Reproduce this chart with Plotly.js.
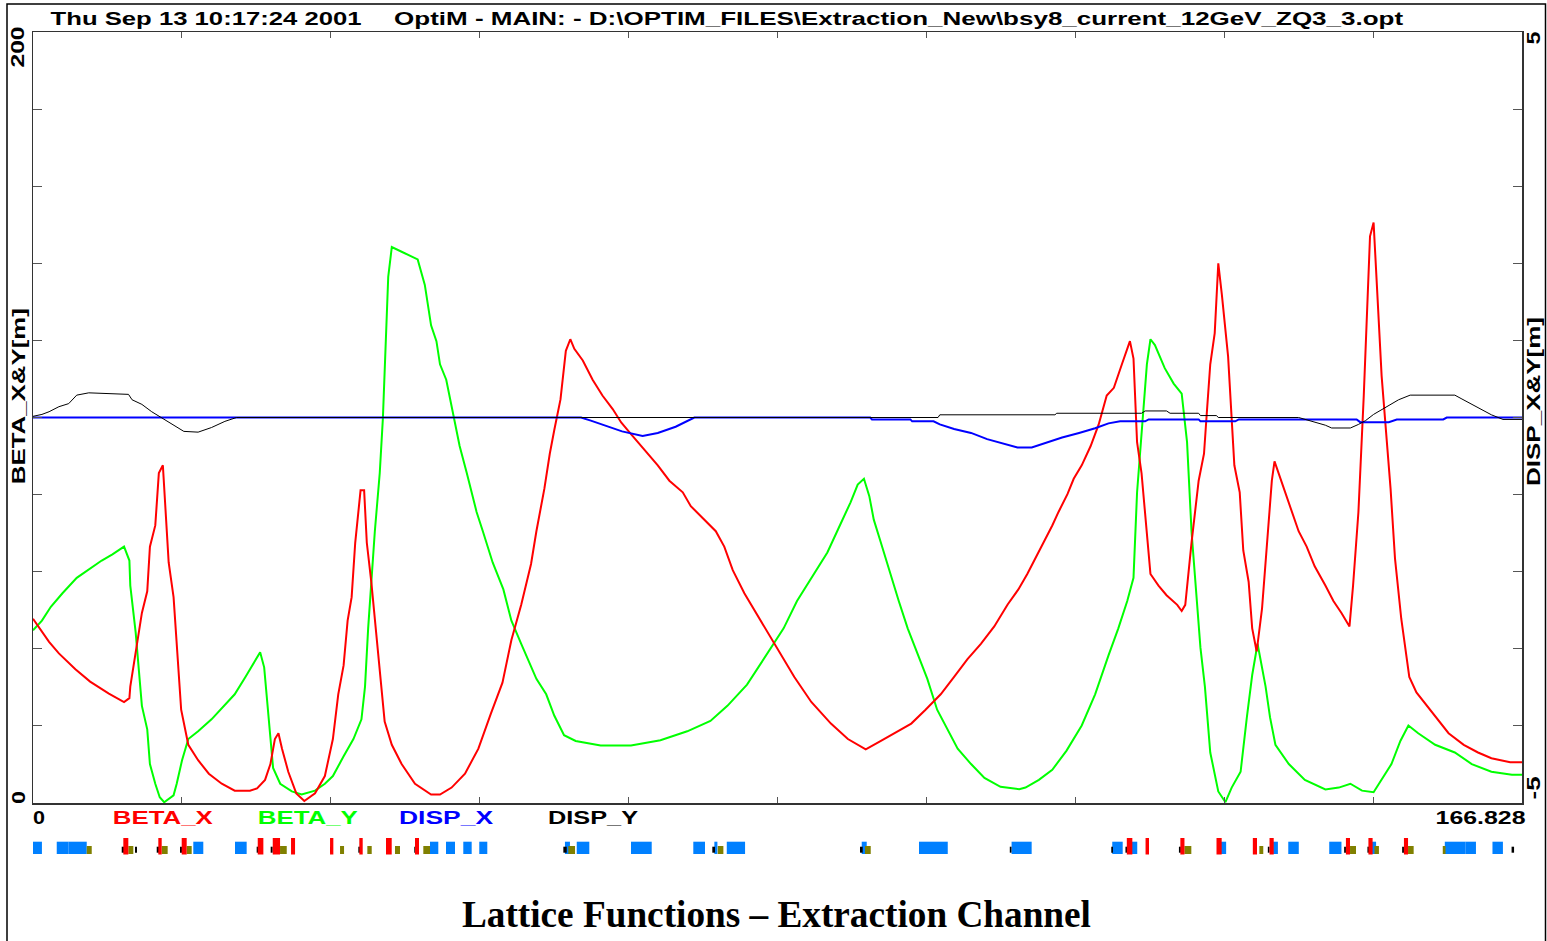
<!DOCTYPE html>
<html>
<head>
<meta charset="utf-8">
<script src="https://cdn.plot.ly/plotly-3.0.1.min.js"></script>
<style>html,body{margin:0;padding:0;background:#fff;}#chart{width:1547px;height:941px;}</style>
</head>
<body>
<div id="chart"></div>
<script>
// ---------------- DATA ----------------
const S_MAX = 166.828;

// BETA_X (red) [m]
const sBetaX = [0,1.8,2.9,4.75,6.4,8.5,10.2,10.8,10.9,12.2,12.8,13.1,13.7,14.1,14.55,15.2,15.75,16.6,17.4,18.5,19.7,21.15,22.6,24.3,25.1,26.0,26.6,27.1,27.5,27.9,28.6,29.5,30.4,31.6,32.7,33.6,34.2,34.8,35.25,35.7,36.1,36.7,37.1,37.4,37.9,38.7,39.4,40.2,41.3,42.8,44.6,45.6,46.9,48.4,49.9,51.3,52.6,53.6,54.7,55.8,56.4,57.3,57.9,58.4,59.1,59.7,60.2,60.65,61.6,62.7,63.8,64.95,65.9,67.0,68.5,70.0,71.3,72.8,73.7,75.0,76.5,77.45,78.4,79.7,81.0,82.3,83.8,85.3,87.2,89.4,91.3,93.3,95.0,96.9,98.4,100.0,101.7,103.2,104.7,106.2,107.7,109.2,110.4,111.4,112.3,113.2,114.2,114.9,115.9,116.6,117.5,118.5,119.4,120.3,121.1,122.0,122.9,123.3,123.7,124.2,124.6,125.2,126.1,127.0,128.2,128.7,129.1,129.8,130.6,131.2,131.5,131.9,132.4,132.8,133.2,133.9,134.6,135.2,135.6,136.2,136.6,137.1,137.7,138.3,138.8,139.1,139.7,140.3,141.0,141.8,142.7,143.6,144.8,145.7,146.6,147.5,147.9,148.5,149.1,149.4,149.8,150.2,150.55,151.1,152.1,152.6,153.3,154.2,155.0,156.2,157.3,158.6,160.3,161.9,163.4,165.5,166.828];
const betaX = [47.8,41.8,38.8,34.7,31.5,28.4,26.2,27.2,30.2,49.3,54.9,66.5,72,85.6,87.6,62.4,53.4,24.2,15.1,11.1,7.6,5.0,3.2,3.2,3.8,6.0,10.1,16.6,18.1,14.1,8.1,2.5,0.5,2.5,7.0,16.6,28.2,35.7,47.3,53.4,67.5,81.1,81.1,67.5,57.4,38.3,21.1,15.1,10.1,5.0,2.2,2.2,4.0,7.6,14.1,23.2,31.2,42.3,51.4,62.0,70.5,81.6,90.6,96.7,104.7,117.3,120.3,117.8,114.8,109.8,105.7,102.2,98.7,95.7,91.6,87.6,83.6,80.6,77.0,74.0,70.5,66.5,60.4,54.4,49.3,44.3,38.3,32.7,26.2,20.6,16.6,13.9,16.1,18.6,20.6,24.2,28.2,32.7,37.3,41.3,45.8,51.5,55.4,59.4,63.4,67.5,72.0,75.5,80.1,84.1,87.6,92.6,98.2,105.7,107.7,113.8,119.8,115.3,93.6,85.6,75.5,59.4,56.4,53.9,51.4,49.8,51.4,67.5,83.6,90.6,100.7,113.8,121.9,140.0,131.9,115.8,87.6,80.6,65.5,57.4,45.3,39.3,50.4,67.5,83.6,88.6,84.6,80.6,75.5,70.5,66.5,61.4,56.4,52.4,49.3,45.8,56.4,75.5,105.7,122.9,147.0,150.6,136.0,110.8,81.6,63.4,47.8,32.7,28.7,25.2,22.2,18.1,15.1,13.1,11.6,10.6,10.6];

// BETA_Y (green) [m]
const sBetaY = [0,1.0,2.0,3.3,4.9,6.4,7.7,8.9,10.2,10.8,10.9,11.5,12.2,12.8,13.1,13.7,14.2,14.7,15.75,16.1,16.7,17.4,18.5,20.0,21.35,22.6,23.8,24.7,25.45,25.9,26.4,26.9,27.7,29.0,30.1,31.6,32.7,33.6,34.8,35.9,36.8,37.2,37.55,38.3,38.85,39.2,39.8,40.2,41.3,42.2,43.1,43.9,44.6,45.2,45.6,46.3,46.9,47.8,48.6,49.7,50.4,51.5,52.7,53.6,54.7,55.45,56.4,57.5,58.4,59.5,60.8,63.6,67.0,70.3,73.3,75.9,77.8,80.0,82.3,84.1,85.6,87.5,89.0,90.5,91.6,92.4,93.1,93.7,94.2,95.0,95.9,97.0,98.0,99.1,100.2,101.3,102.5,103.6,105.1,106.6,108.4,110.5,111.2,112.7,114.2,115.8,117.5,119.0,120.5,121.6,122.6,123.3,123.7,124.2,124.8,125.2,125.7,126.8,127.8,128.7,129.3,129.8,130.8,131.3,131.9,132.8,133.6,134.3,135.3,136.0,136.6,137.2,138.1,138.6,139.2,140.7,142.5,144.8,146.3,147.6,148.9,150.2,151.1,152.2,153.2,154.1,155.2,157.1,159.3,161.2,163.4,165.7,166.828];
const betaY = [44.8,47.3,50.9,54.4,58.4,60.9,62.9,64.5,66.5,62.9,56.4,44.3,25.2,19.1,10.1,5.0,1.5,0.2,2.0,5.0,11.1,16.6,18.6,21.7,25.2,28.2,32.7,36.3,39.1,35.2,21.1,9.1,5.0,3.0,2.2,3.2,5.0,7.0,12.1,16.6,21.7,30.2,45.3,70.5,85.6,99.7,136.5,144.2,143.0,142.0,141.0,134.4,123.9,119.8,113.8,109.8,102.7,92.6,85.6,75.5,70.5,62.4,55.4,47.3,41.3,37.3,32.2,28.2,22.7,17.6,16.1,14.9,14.9,16.3,18.6,21.3,25.2,30.7,38.8,45.3,52.4,59.4,65.0,72.5,78.0,82.6,84.1,79.6,73.5,67.5,60.4,52.4,45.3,38.8,32.2,24.2,19.1,14.1,10.1,6.5,4.2,3.6,4.0,6.0,8.6,13.6,20.1,28.2,38.3,45.3,52.4,58.4,80.6,95.7,113.8,120.3,118.8,112.8,108.8,106.2,93.6,70.5,40.3,30.2,13.1,3.0,0.2,4.0,8.1,22.2,33.2,41.3,30.2,22.2,15.1,10.1,6.0,3.5,4.0,5.0,3.2,2.8,6.0,10.1,16.1,20.1,18.1,15.1,13.1,10.1,8.1,7.3,7.3];

// DISP_X (blue) [m]
const sDispX = [0,61.4,62.5,64,66,68.3,70,72,74.1,93.8,94,98.3,98.5,100.9,101.6,103.2,105.1,106.9,108.8,110.3,111.9,113.4,115.3,117.2,119.0,120.5,121.8,124.6,125.0,130.6,130.8,134.7,135.1,148.3,148.7,151.9,152.8,158.0,158.4,166.828];
const dispX = [0,0,-0.04,-0.1,-0.18,-0.24,-0.2,-0.12,0,0,-0.025,-0.025,-0.05,-0.05,-0.09,-0.15,-0.2,-0.28,-0.34,-0.39,-0.39,-0.33,-0.26,-0.2,-0.14,-0.076,-0.05,-0.05,-0.025,-0.025,-0.05,-0.05,-0.025,-0.025,-0.06,-0.06,-0.025,-0.025,0,0];

// DISP_Y (black) [m]
const sDispY = [0,1.0,1.8,2.9,4.0,4.9,6.25,10.7,11.1,12.2,13.3,14.6,15.9,16.9,18.5,20.0,21.5,22.8,101.4,101.6,114.5,114.7,124.2,124.6,127.0,127.4,130.6,130.8,132.6,132.8,141.8,143.3,144.8,145.5,147.6,148.5,149.3,150.2,151.1,152.1,153.0,154.3,159.3,160.1,161.2,162.3,163.4,164.7,166.828];
const dispY = [0.015,0.04,0.075,0.14,0.18,0.29,0.32,0.30,0.23,0.17,0.075,-0.015,-0.10,-0.18,-0.19,-0.13,-0.05,0,0,0.035,0.035,0.055,0.055,0.085,0.085,0.055,0.055,0.025,0.025,0,0,-0.05,-0.10,-0.136,-0.136,-0.09,-0.04,0.04,0.10,0.17,0.23,0.29,0.29,0.24,0.17,0.10,0.035,-0.025,-0.025];

// Lattice elements: start position [m] and length [m]
const bendStart = [0.0,2.66,3.96,17.96,22.63,44.48,46.27,48.21,50.0,59.6,60.92,67.0,73.98,76.34,77.73,92.85,99.27,109.64,120.92,123.06,133.1,138.94,140.64,145.23,150.02,158.18,160.52,163.52];
const bendLen   = [1.0,1.30,2.06,1.12,1.31,0.93,1.01,0.94,0.9,0.56,1.41,2.32,1.31,0.34,2.05,0.56,3.22,2.25,1.17,0.66,0.58,0.54,1.18,1.37,0.46,2.34,1.15,1.17];
const quadStart = [10.12,14.04,16.66,25.18,26.86,28.91,33.28,36.56,39.55,42.8,122.55,124.65,128.55,132.6,136.67,138.54,147.1,149.62,153.6];
const quadLen   = [0.56,0.38,0.56,0.63,0.82,0.45,0.37,0.38,0.64,0.45,0.62,0.39,0.46,0.58,0.47,0.47,0.46,0.47,0.46];
const sextStart = [6.02,10.68,14.42,17.22,27.68,34.4,37.46,40.56,43.73,59.98,76.72,93.22,129.0,137.4,147.56,150.3,154.06,157.95];
const sextLen   = [0.56,0.56,0.67,0.56,0.75,0.45,0.49,0.56,0.75,0.75,0.63,0.64,0.78,0.44,0.67,0.5,0.63,0.31];
const monStart  = [9.94,11.43,13.86,16.47,25.06,26.63,33.28,36.45,39.55,42.72,59.42,76.11,92.66,109.44,120.81,122.4,128.39,138.35,146.9,149.51,153.4,165.66];
const monLen    = [0.26,0.22,0.26,0.22,0.18,0.22,0.19,0.19,0.19,0.19,0.38,0.3,0.3,0.19,0.19,0.19,0.22,0.19,0.2,0.19,0.2,0.28];

// Texts
const headerDate = 'Thu Sep 13 10:17:24 2001';
const headerFile = 'OptiM - MAIN: - D:\\OPTIM_FILES\\Extraction_New\\bsy8_current_12GeV_ZQ3_3.opt';
const seriesNames = ['BETA_X','BETA_Y','DISP_X','DISP_Y'];
const leftAxisTitle = 'BETA_X&amp;Y[m]';
const rightAxisTitle = 'DISP_X&amp;Y[m]';
const chartTitle = 'Lattice Functions \u2013 Extraction Channel';

// ---------------- LAYOUT HELPERS ----------------
const W = 1547, H = 941;
const PL = 33, PR = 1522, PT = 32, PBOT = 860, AXB = 803;
const px = x => (x - PL) / (PR - PL);
const py = y => (PBOT - y) / (PBOT - PT);
const Y0 = (PBOT - AXB) / (PBOT - PT);
const STRIP_PX = PBOT - AXB;

const SANS = 'Liberation Sans, Arial, sans-serif';
const COLORS = {bx:'#ff0000', by:'#00ff00', dx:'#0000ff', dy:'#000000'};

function mkBars(starts, lens, base, h, color){
  return {type:'bar', xaxis:'x', yaxis:'y3',
    x: starts.map((s,i)=>s+lens[i]/2), width: lens.slice(),
    y: starts.map(()=>h), base: starts.map(()=>base),
    marker:{color:color, line:{width:0}}, hoverinfo:'skip', showlegend:false};
}

const traces = [
  {x:sDispX, y:dispX, yaxis:'y2', mode:'lines', line:{color:COLORS.dx, width:2}, name:'DISP_X'},
  {x:sDispY, y:dispY, yaxis:'y2', mode:'lines', line:{color:COLORS.dy, width:1}, name:'DISP_Y'},
  {x:sBetaY, y:betaY, mode:'lines', line:{color:COLORS.by, width:2}, name:'BETA_Y'},
  {x:sBetaX, y:betaX, mode:'lines', line:{color:COLORS.bx, width:2}, name:'BETA_X'},
  mkBars(bendStart, bendLen, 6, 12.3, '#0080ff'),
  mkBars(monStart, monLen, 7.3, 6, '#000000'),
  mkBars(sextStart, sextLen, 6, 8, '#808000'),
  mkBars(quadStart, quadLen, 5.5, 16.5, '#ff0000')
];

// annotation specs (pixel centres, target text length for stretched sans font)
const ANN = [
  {t:headerDate, x:205.5, y:19, size:18, target:311},
  {t:headerFile, x:898.5, y:19, size:18, target:1009},
  {t:'200', x:18.5, y:47.5, size:18, angle:-90, target:41},
  {t:leftAxisTitle, x:18.5, y:396, size:18, angle:-90, target:176},
  {t:'0', x:18.5, y:798, size:18, angle:-90, target:13},
  {t:'5', x:1534, y:38, size:18, angle:-90, target:13},
  {t:rightAxisTitle, x:1534, y:402, size:18, angle:-90, target:169},
  {t:'-5', x:1534, y:788, size:18, angle:-90, target:23},
  {t:'0', x:39, y:818.3, size:18, target:12},
  {t:seriesNames[0], x:163, y:818.3, size:18, color:COLORS.bx, target:100},
  {t:seriesNames[1], x:307.7, y:818.3, size:18, color:COLORS.by, target:100},
  {t:seriesNames[2], x:445.5, y:818.3, size:18, color:COLORS.dx, target:94},
  {t:seriesNames[3], x:593.3, y:818.3, size:18, color:COLORS.dy, target:90},
  {t:String(S_MAX), x:1480, y:818.3, size:18, target:90},
  {t:chartTitle, x:776.5, y:914, size:37, family:'Liberation Serif, Times New Roman, serif', target:629}
];

const annotations = ANN.map(a => ({
  text:a.t, xref:'paper', yref:'paper', x:px(a.x), y:py(a.y),
  xanchor:'center', yanchor:'middle', showarrow:false, textangle:a.angle||0,
  font:{family:a.family||SANS, size:a.size, color:a.color||'#000', weight:'bold'}
}));

const xticks = []; for (let k=0;k<=10;k++) xticks.push(k*S_MAX/10);
const yticks = []; for (let k=0;k<=10;k++) yticks.push(k*20);
const y2ticks = []; for (let k=-5;k<=5;k++) y2ticks.push(k);

const axLine = {showline:true, linecolor:'#333', linewidth:1.5, showgrid:false, zeroline:false,
  ticks:'inside', tickcolor:'#555', tickwidth:1, showticklabels:false, fixedrange:true};

const layout = {
  width:W, height:H, margin:{l:PL, r:W-PR, t:PT, b:H-PBOT, pad:0},
  paper_bgcolor:'#fff', plot_bgcolor:'rgba(0,0,0,0)', showlegend:false, barmode:'overlay',
  xaxis:Object.assign({}, axLine, {range:[0,S_MAX], tickvals:xticks, ticklen:6, mirror:'ticks', anchor:'y', domain:[0,1]}),
  yaxis:Object.assign({}, axLine, {range:[0,200], tickvals:yticks, ticklen:9, domain:[Y0,1], anchor:'x'}),
  yaxis2:Object.assign({}, axLine, {range:[-5,5], tickvals:y2ticks, ticklen:9, overlaying:'y', side:'right', anchor:'x'}),
  yaxis3:{domain:[0,Y0], range:[0,STRIP_PX], visible:false, fixedrange:true, anchor:'x'},
  annotations:annotations,
  shapes:[{type:'rect', xref:'paper', yref:'paper', x0:px(7), x1:px(1545.5), y0:py(960), y1:py(4),
    line:{color:'#000', width:1.5}, fillcolor:'rgba(0,0,0,0)', layer:'below'}]
};

Plotly.newPlot('chart', traces, layout, {displayModeBar:false, staticPlot:true}).then(gd => {
  gd.querySelectorAll('g.annotation').forEach(g => {
    const i = +g.getAttribute('data-index');
    const spec = ANN[i];
    const t = g.querySelector('text.annotation-text');
    if (spec && spec.target && t) {
      t.setAttribute('textLength', spec.target);
      t.setAttribute('lengthAdjust', 'spacingAndGlyphs');
    }
  });
});
</script>
</body>
</html>
